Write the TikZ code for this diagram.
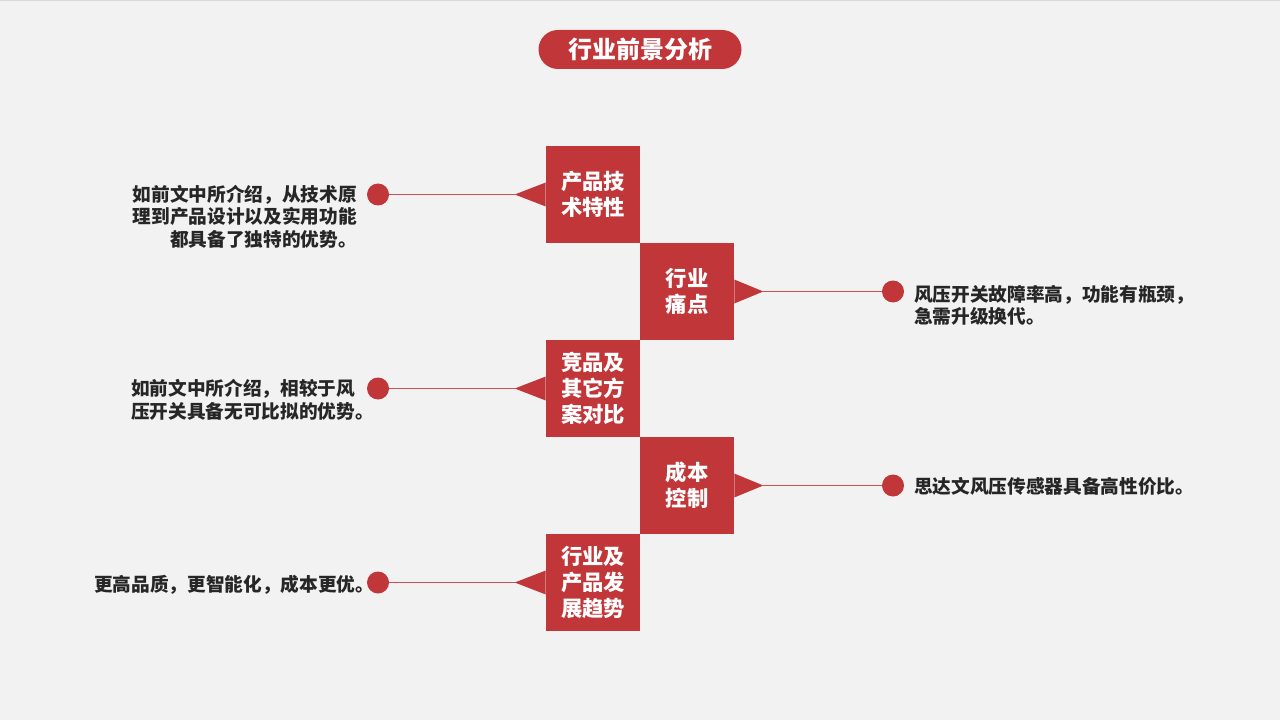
\documentclass[tikz,border=0pt]{standalone}
\usepackage{fontspec}
\usepackage{xcolor}
\newfontfamily\cjk{Noto Sans CJK SC}
\definecolor{slidered}{RGB}{193,54,56}
\definecolor{linered}{RGB}{205,80,82}
\definecolor{slidebg}{RGB}{242,242,242}
\definecolor{textdark}{RGB}{38,38,38}

\begin{document}
\begin{tikzpicture}[x=0.75pt, y=-0.75pt,
      every node/.append style={font=\cjk\bfseries},
      box/.style={fill=slidered, text=white, minimum width=70.5pt, minimum height=72.75pt,
        inner sep=0pt, align=center, font=\cjk\bfseries\fontsize{16}{19.5}\selectfont},
      dot/.style={circle, fill=slidered, minimum size=16.5pt, inner sep=0pt}]
    \tikzstyle{word} = [text=textdark, inner sep=0pt, font=\cjk\bfseries\fontsize{14}{17}\selectfont]
    \useasboundingbox (0,0) rectangle (1280,720);
    \fill[slidebg] (0,0) rectangle (1280,720);
    \draw[black!15, line width=0.75pt] (0,0.5) -- (1280,0.5);

    % title
    \node (title) [fill=slidered, text=white, rounded corners=14.6pt, minimum width=152.25pt,
      minimum height=29.25pt, font=\cjk\bfseries\fontsize{18}{20}\selectfont] at (640,49.5) {行业前景分析};

    % boxes
    \node (tech) [box] at (593,194.5) {产品技\\术特性};
    \node (pain) [box] at (687,291.5) {行业\\痛点};
    \node (rival) [box] at (593,388.5) {竞品及\\其它方\\案对比};
    \node (cost) [box] at (687,485.5) {成本\\控制};
    \node (trend) [box] at (593,582.5) {行业及\\产品发\\展趋势};

    % arrow tips
    \fill[slidered] (tech.west) ++(0,-12) -- ++(-31,12) coordinate (tech_tip) -- ++(31,12) -- cycle;
    \fill[slidered] (pain.east) ++(0,-12) -- ++(29,12) coordinate (pain_tip) -- ++(-29,12) -- cycle;
    \fill[slidered] (rival.west) ++(0,-12) -- ++(-31,12) coordinate (rival_tip) -- ++(31,12) -- cycle;
    \fill[slidered] (cost.east) ++(0,-12) -- ++(29,12) coordinate (cost_tip) -- ++(-29,12) -- cycle;
    \fill[slidered] (trend.west) ++(0,-12) -- ++(-31,12) coordinate (trend_tip) -- ++(31,12) -- cycle;

    % dots
    \node (tech_dot) [dot] at (378,194.5) {};
    \node (pain_dot) [dot] at (893,291.5) {};
    \node (rival_dot) [dot] at (378,388.5) {};
    \node (cost_dot) [dot] at (893,485.5) {};
    \node (trend_dot) [dot] at (378,582.5) {};

    \draw[linered, line width=0.6pt] (tech_tip) -- (tech_dot);
    \draw[linered, line width=0.6pt] (pain_tip) -- (pain_dot);
    \draw[linered, line width=0.6pt] (rival_tip) -- (rival_dot);
    \draw[linered, line width=0.6pt] (cost_tip) -- (cost_dot);
    \draw[linered, line width=0.6pt] (trend_tip) -- (trend_dot);

    % texts
    \node (tech_text) [word, anchor=east, align=right] at (357,216.5)
      {如前文中所介绍，从技术原\\理到产品设计以及实用功能\\都具备了独特的优势。};
    \node (pain_text) [word, anchor=west, align=left] at (914,305.5)
      {风压开关故障率高，功能有瓶颈，\\急需升级换代。};
    \node (rival_text) [word, anchor=west, align=left] at (131,400)
      {如前文中所介绍，相较于风\\压开关具备无可比拟的优势。};
    \node (cost_text) [word, anchor=west] at (914,486) {思达文风压传感器具备高性价比。};
    \node (trend_text) [word, anchor=west] at (94,585) {更高品质，更智能化，成本更优。};
\end{tikzpicture}
\end{document}
